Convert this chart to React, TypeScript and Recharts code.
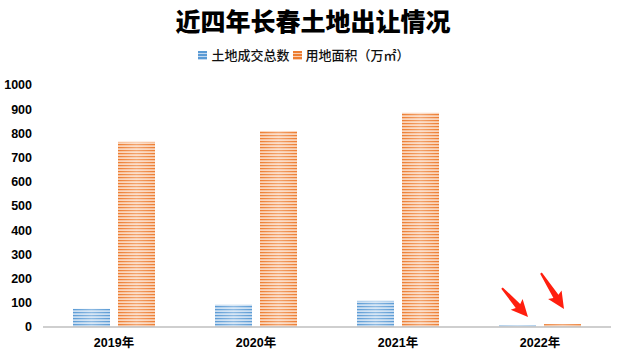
import React from "react";
import { BarChart, Bar, XAxis, YAxis, Legend } from "recharts";

const years = ["2019年", "2020年", "2021年", "2022年"];
const dealCounts = [75, 92, 108, 8];
const landArea = [765, 810, 885, 12];
const yTicks = [0, 100, 200, 300, 400, 500, 600, 700, 800, 900, 1000];

const data = years.map((year, i) => ({
  year,
  deals: dealCounts[i],
  area: landArea[i],
}));

const BLUE = "#5b9bd5";
const ORANGE = "#ed7d31";

const seriesInfo = [
  { key: "deals", name: "土地成交总数", color: BLUE, pattern: "stripeBlue" },
  { key: "area", name: "用地面积（万㎡）", color: ORANGE, pattern: "stripeOrange" },
];

// red annotation arrow pointing at (tx, ty), coming from (sx, sy)
function Arrow({ sx, sy, tx, ty }: { sx: number; sy: number; tx: number; ty: number }) {
  const dx = tx - sx;
  const dy = ty - sy;
  const len = Math.sqrt(dx * dx + dy * dy);
  const ang = (Math.atan2(dy, dx) * 180) / Math.PI;
  const h = 15;
  const pts = [
    [0, -1],
    [len - h, -3],
    [len - h - 2, -8],
    [len, 0],
    [len - h - 2, 8],
    [len - h, 3],
    [0, 1],
  ]
    .map((p) => p.join(","))
    .join(" ");
  return (
    <polygon
      points={pts}
      fill="#ff1f0f"
      transform={`translate(${sx},${sy}) rotate(${ang})`}
    />
  );
}

function makeShape(pattern: string, arrow: { ox: number; oy: number; tx: number; ty: number }) {
  return (props: any) => {
    const { x, y, width, height, index } = props;
    return (
      <g>
        <rect x={x} y={y} width={width} height={height} fill={`url(#${pattern})`} />
        <rect x={x} y={y} width={width} height={height} fill="url(#shine)" />
        {index === years.length - 1 && (
          <Arrow
            sx={x + arrow.ox}
            sy={y + arrow.oy}
            tx={x + arrow.tx}
            ty={y + arrow.ty}
          />
        )}
      </g>
    );
  };
}

const blueShape = makeShape("stripeBlue", { ox: 3, oy: -37, tx: 29, ty: -8 });
const orangeShape = makeShape("stripeOrange", { ox: -3, oy: -51, tx: 20, ty: -15 });

function LegendContent() {
  return (
    <div
      style={{
        display: "flex",
        justifyContent: "center",
        alignItems: "center",
        fontFamily: "'Noto Sans CJK SC', sans-serif",
        fontSize: 13,
        fontWeight: 500,
        color: "#111",
        lineHeight: "20px",
      }}
    >
      {seriesInfo.map((s) => (
        <span key={s.key} style={{ display: "flex", alignItems: "center", marginRight: 3 }}>
          <svg width={9} height={9} style={{ marginRight: 4 }}>
            <rect width={9} height={9} fill={`url(#${s.pattern}L)`} />
          </svg>
          {s.name}
        </span>
      ))}
    </div>
  );
}

export default function App() {
  return (
    <div style={{ position: "absolute", left: 0, top: 0, width: 626, height: 352, background: "#fff" }}>
      <svg width={0} height={0} style={{ position: "absolute" }}>
        <defs>
          <pattern id="stripeBlueL" patternUnits="userSpaceOnUse" width={9} height={3}>
            <rect width={9} height={2} fill={BLUE} />
            <rect y={2} width={9} height={1} fill="#c5daf0" />
          </pattern>
          <pattern id="stripeOrangeL" patternUnits="userSpaceOnUse" width={9} height={3}>
            <rect width={9} height={2} fill={ORANGE} />
            <rect y={2} width={9} height={1} fill="#f9cfb2" />
          </pattern>
        </defs>
      </svg>
      <div
        style={{
          position: "absolute",
          top: 3,
          width: 626,
          textAlign: "center",
          fontFamily: "'Noto Sans CJK SC', sans-serif",
          fontWeight: 900,
          fontSize: 25,
          lineHeight: "34px",
          color: "#000",
          zIndex: 2,
        }}
      >
        近四年长春土地出让情况
      </div>
      <BarChart
        width={626}
        height={352}
        data={data}
        margin={{ top: 65, right: 15, bottom: 0, left: 0 }}
        barGap={8}
        barCategoryGap={30}
      >
        <defs>
          <pattern id="stripeBlue" patternUnits="userSpaceOnUse" width={10} height={3}>
            <rect width={10} height={1.6} fill={BLUE} />
            <rect y={1.6} width={10} height={1.4} fill="#c9ddf1" />
          </pattern>
          <pattern id="stripeOrange" patternUnits="userSpaceOnUse" width={10} height={3}>
            <rect width={10} height={1.6} fill={ORANGE} />
            <rect y={1.6} width={10} height={1.4} fill="#fad3b8" />
          </pattern>
          <linearGradient id="shine" x1="0" y1="0" x2="1" y2="0">
            <stop offset="0" stopColor="#fff" stopOpacity={0} />
            <stop offset="0.5" stopColor="#fff" stopOpacity={0.3} />
            <stop offset="1" stopColor="#fff" stopOpacity={0} />
          </linearGradient>
        </defs>
        <Legend
          verticalAlign="top"
          align="center"
          height={20}
          wrapperStyle={{ top: 45 }}
          content={<LegendContent />}
        />
        <XAxis
          dataKey="year"
          axisLine={{ stroke: "#bfbfbf", strokeWidth: 1.5 }}
          tickLine={false}
          height={25}
          tickMargin={5}
          tick={{ fill: "#000", fontSize: 12.5, fontWeight: 700, fontFamily: "'Liberation Sans', 'Noto Sans CJK SC', sans-serif" }}
        />
        <YAxis
          domain={[0, 1000]}
          ticks={yTicks}
          width={43}
          axisLine={false}
          tickLine={false}
          tickMargin={5}
          tick={{ fill: "#000", fontSize: 12.5, fontWeight: 700, fontFamily: "'Liberation Sans', sans-serif" }}
        />
        <Bar
          dataKey="deals"
          name={seriesInfo[0].name}
          fill={BLUE}
          shape={blueShape}
          isAnimationActive={false}
        />
        <Bar
          dataKey="area"
          name={seriesInfo[1].name}
          fill={ORANGE}
          shape={orangeShape}
          isAnimationActive={false}
        />
      </BarChart>
    </div>
  );
}
